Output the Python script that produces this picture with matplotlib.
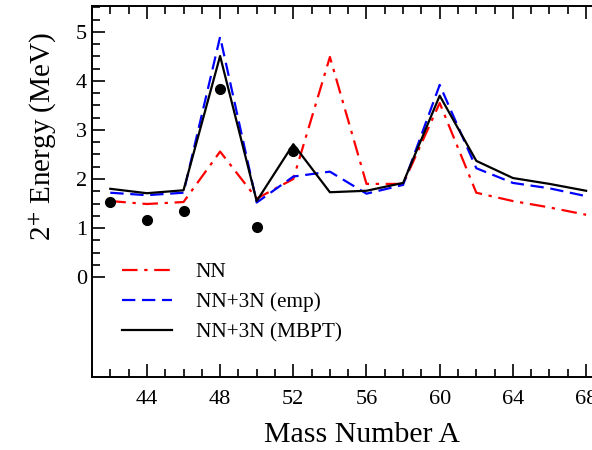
import matplotlib
matplotlib.use("Agg")
import matplotlib.pyplot as plt
from matplotlib.ticker import MultipleLocator, FixedLocator

plt.rcParams['font.family'] = ['Liberation Serif', 'DejaVu Serif']
plt.rcParams['mathtext.fontset'] = 'stix'

mass_A = [42, 44, 46, 48, 50, 52, 54, 56, 58, 60, 62, 64, 66, 68]
e_nn = [1.55, 1.49, 1.53, 2.56, 1.60, 2.00, 4.49, 1.90, 1.90, 3.55, 1.72, 1.55, 1.42, 1.27]
e_emp = [1.72, 1.67, 1.72, 4.90, 1.52, 2.05, 2.15, 1.70, 1.88, 3.92, 2.22, 1.92, 1.81, 1.65]
e_mbpt = [1.80, 1.71, 1.77, 4.51, 1.55, 2.71, 1.73, 1.76, 1.92, 3.70, 2.37, 2.02, 1.90, 1.76]
exp_A = [42, 44, 46, 48, 50, 52]
exp_E = [1.525, 1.157, 1.346, 3.832, 1.027, 2.563]

fig = plt.figure(figsize=(5.92, 4.5), dpi=100)
x0 = 92 / 592
xmin, xmax = 41, 70
px_per_unit = 18.3
width_px = (xmax - xmin) * px_per_unit
ax = fig.add_axes([x0, 73 / 450, width_px / 592, (377 - 6) / 450])

ax.plot(mass_A, e_nn, color='red', lw=1.6, dashes=(7, 3, 1.5, 3), label='NN')
ax.plot(mass_A, e_emp, color='blue', lw=1.6, dashes=(6, 3), label='NN+3N (emp)')
ax.plot(mass_A, e_mbpt, color='black', lw=1.6, label='NN+3N (MBPT)')
ax.plot(exp_A, exp_E, 'o', color='black', ms=7, zorder=5)

ax.set_xlim(xmin, xmax)
ax.set_ylim(-2.04, 5.53)
ax.xaxis.set_major_locator(MultipleLocator(4))
ax.xaxis.set_minor_locator(MultipleLocator(1))
ax.yaxis.set_major_locator(FixedLocator([0, 1, 2, 3, 4, 5]))
ax.yaxis.set_minor_locator(FixedLocator([i * 0.25 for i in range(0, 23)]))

ax.tick_params(which='both', direction='in', top=True, right=False, width=1.2, labelsize=16)
ax.tick_params(which='major', length=9.5)
ax.tick_params(which='minor', length=5.8)
ax.tick_params(axis='x', which='major', pad=9.5)
for s in ax.spines.values():
    s.set_linewidth(1.4)

ax.set_xlabel('Mass Number A', fontsize=21.5, va='center')
ax.xaxis.set_label_coords((361.5 - 92) / width_px, (377 - 435) / 371)
ax.set_ylabel('2$^{+}$ Energy (MeV)', fontsize=21, va='center')
ax.yaxis.set_label_coords((43 - 92) / width_px, (377 - 136) / 371)

ax.legend(loc='upper left', bbox_to_anchor=(0.021, 0.361), frameon=False, fontsize=15.3,
          handlelength=2.35, labelspacing=0.48, handletextpad=1.1)

fig.savefig('out.png', dpi=100)
